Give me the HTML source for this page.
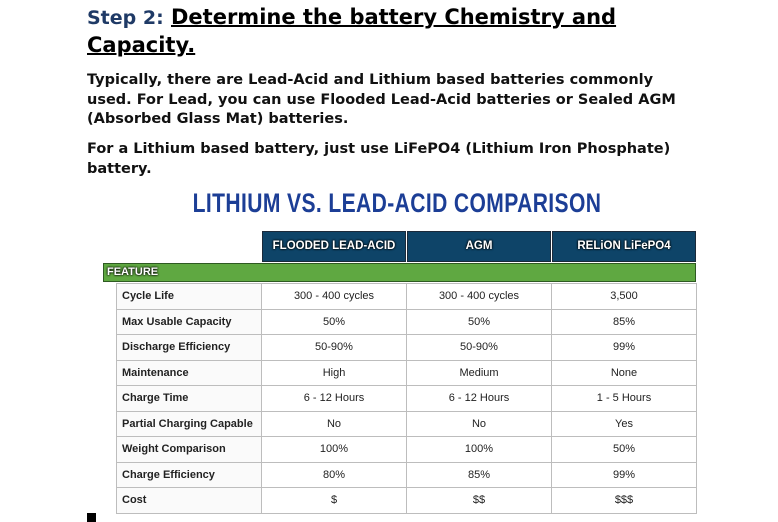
<!DOCTYPE html>
<html><head><meta charset="utf-8"><style>
body{margin:0;width:778px;height:522px;background:#fff;position:relative;overflow:hidden;font-family:"DejaVu Sans",Verdana,sans-serif;}
h1{position:absolute;left:87px;top:4px;margin:0;font-size:21px;line-height:27px;font-weight:bold;color:#000;width:620px;white-space:normal}
h1 .s{color:#1f3a66;font-size:19px}
h1 u{text-decoration-thickness:2px}
.p{position:absolute;left:87px;margin:0;font-size:14.5px;font-weight:bold;line-height:19.5px;color:#111;white-space:nowrap}
.t{position:absolute;left:0;top:188px;width:794px;text-align:center;font-family:"Liberation Sans",sans-serif;font-weight:bold;font-size:27px;color:#1c3e96;transform:scaleX(0.78);transform-origin:397px 0;letter-spacing:0.5px}
.h{position:absolute;top:231px;height:31px;background:#0e4468;border:1px solid #1b2a3a;box-sizing:border-box;color:#fff;font-family:"Liberation Sans",sans-serif;font-weight:bold;font-size:11.5px;line-height:29px;text-align:center;text-shadow:0 0 2px #000,0 0 2px #000}
.g{position:absolute;left:103px;top:263px;width:593px;height:19px;background:#5fa841;border:1px solid #2e5a22;box-sizing:border-box;color:#fff;font-family:"Liberation Sans",sans-serif;font-weight:bold;font-size:11px;line-height:17px;padding-left:3px;text-shadow:0 0 2px #000,0 0 2px #000}
table{position:absolute;left:116px;top:283px;border-collapse:collapse;font-family:"Liberation Sans",sans-serif;font-size:11px;color:#222}
td{border:1px solid #bdbdbd;height:24.5px;padding:0;text-align:center}
td:first-child{width:145px;text-align:left;padding-left:5px;font-weight:bold;box-sizing:border-box;background:#fafafa}
td.c{width:144px}
.sq{position:absolute;left:87px;top:513px;width:9px;height:9px;background:#000}
</style></head><body>
<h1><span class="s">Step 2:</span> <u>Determine the battery Chemistry and Capacity.</u></h1>
<p class="p" style="top:71px">Typically, there are Lead-Acid and Lithium based batteries commonly<br>used. For Lead, you can use Flooded Lead-Acid batteries or Sealed AGM<br>(Absorbed Glass Mat) batteries.</p>
<p class="p" style="top:140px">For a Lithium based battery, just use LiFePO4 (Lithium Iron Phosphate)<br>battery.</p>
<div class="t">LITHIUM VS. LEAD-ACID COMPARISON</div>
<div class="h" style="left:262px;width:144px">FLOODED LEAD-ACID</div>
<div class="h" style="left:407px;width:144px">AGM</div>
<div class="h" style="left:552px;width:144px">RELiON LiFePO4</div>
<div class="g">FEATURE</div>
<table>
<tr><td>Cycle Life</td><td class="c">300 - 400 cycles</td><td class="c">300 - 400 cycles</td><td class="c">3,500</td></tr>
<tr><td>Max Usable Capacity</td><td class="c">50%</td><td class="c">50%</td><td class="c">85%</td></tr>
<tr><td>Discharge Efficiency</td><td class="c">50-90%</td><td class="c">50-90%</td><td class="c">99%</td></tr>
<tr><td>Maintenance</td><td class="c">High</td><td class="c">Medium</td><td class="c">None</td></tr>
<tr><td>Charge Time</td><td class="c">6 - 12 Hours</td><td class="c">6 - 12 Hours</td><td class="c">1 - 5 Hours</td></tr>
<tr><td>Partial Charging Capable</td><td class="c">No</td><td class="c">No</td><td class="c">Yes</td></tr>
<tr><td>Weight Comparison</td><td class="c">100%</td><td class="c">100%</td><td class="c">50%</td></tr>
<tr><td>Charge Efficiency</td><td class="c">80%</td><td class="c">85%</td><td class="c">99%</td></tr>
<tr><td>Cost</td><td class="c">$</td><td class="c">$$</td><td class="c">$$$</td></tr>
</table>
<div class="sq"></div>
</body></html>
